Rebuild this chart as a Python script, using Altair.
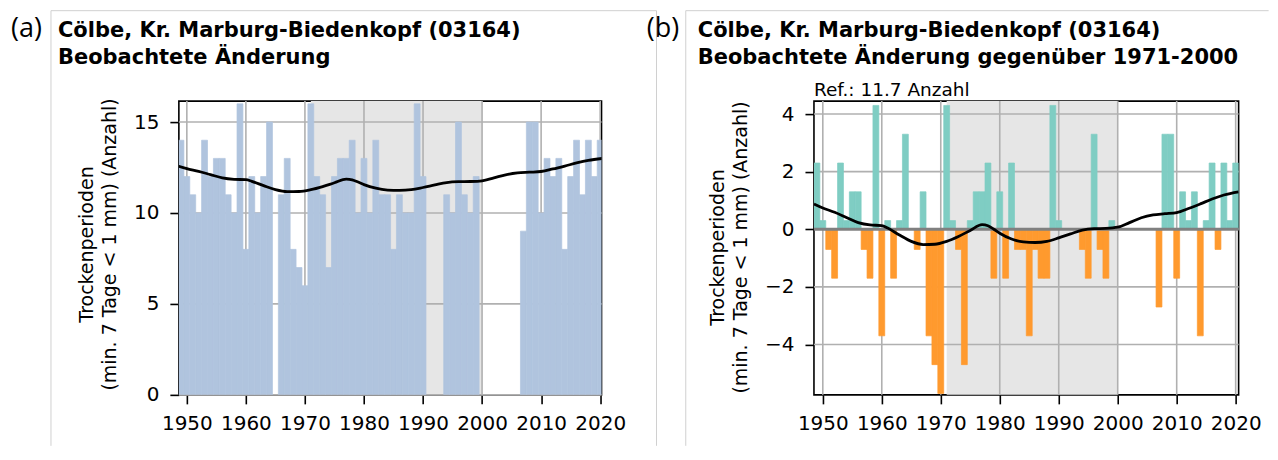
import altair as alt
import pandas as pd

# ---------------- data ----------------
years = list(range(1949, 2021))
counts = [14, 12, 11, 10, 14, 12, 13, 13, 11, 10,
          16, 8, 12, 10, 12, 15, None, 11, 13, 8,
          7, 6, 16, 12, 11, 7, 12, 13, 13, 14,
          10, 13, 10, 14, 11, 11, 8, 11, 10, 10,
          16, 12, None, None, None, 11, 10, 15, 11, 10,
          12, None, None, None, None, None, None, None, 9, 15,
          15, 10, 13, 12, 13, 8, 12, 14, 11, 14,
          12, 14]
ref_value = 11.7

smooth_years = [1948.5, 1950, 1952, 1954, 1956, 1958, 1960, 1961, 1963, 1965,
                1967, 1969, 1971, 1973, 1975, 1977, 1978, 1979, 1980, 1982,
                1984, 1986, 1988, 1990, 1992, 1994, 1996, 1998, 2000, 2002,
                2004, 2006, 2008, 2010, 2012, 2014, 2016, 2018, 2020.5]
smooth_vals = [12.58, 12.44, 12.29, 12.11, 11.93, 11.85, 11.83, 11.74, 11.50, 11.28,
               11.17, 11.18, 11.28, 11.45, 11.66, 11.86, 11.82, 11.70, 11.56, 11.36,
               11.26, 11.24, 11.28, 11.40, 11.54, 11.67, 11.72, 11.73, 11.77, 11.93,
               12.10, 12.20, 12.24, 12.28, 12.42, 12.58, 12.75, 12.89, 13.00]

span_start = [1971]
span_end = [2000]
x_ticks = [1950, 1960, 1970, 1980, 1990, 2000, 2010, 2020]
y_ticks_a = [0, 5, 10, 15]
y_ticks_b = [-4, -2, 0, 2, 4]

title_1 = "Cölbe, Kr. Marburg-Biedenkopf (03164)"
title_a2 = "Beobachtete Änderung"
title_b2 = "Beobachtete Änderung gegenüber 1971-2000"
y_title = ["Trockenperioden", "(min. 7 Tage < 1 mm) (Anzahl)"]
ref_label = "Ref.: 11.7 Anzahl"
panel_tags = ["(a)", "(b)"]

# ---------------- tables ----------------
bars = pd.DataFrame({"year": years, "count": counts}).dropna()
bars["x0"] = bars["year"] - 0.5
bars["x1"] = bars["year"] + 0.5
bars["anom"] = bars["count"] - ref_value
smooth = pd.DataFrame({"year": smooth_years, "val": smooth_vals})
smooth["anom"] = smooth["val"] - ref_value
span = pd.DataFrame({"s": span_start, "e": span_end})

H = 294
GRID = "#b0b0b0"
BORDER = "#d0d0d0"
FONT = "DejaVu Sans"
BLUE = "#b0c4de"
CYAN = "#7fcdc3"
ORANGE = "#ff9a2e"


def one(v):
    return pd.DataFrame({"t": [v]})


def panel(which):
    if which == "a":
        W = 423
        xdom = [1948.65, 2020.23]
        ydom = [0, 16.15]
        yfield = "count"
        lfield = "val"
        yticks = y_ticks_a
        title_x, title_y = -92.5, 143
        tdx = -121
        sub = title_a2
        tag = panel_tags[0]
        border_right = 478
    else:
        W = 425
        xdom = [1948.5, 2020.5]
        ydom = [-5.75, 4.45]
        yfield = "anom"
        lfield = "anom"
        yticks = y_ticks_b
        title_x, title_y = -97, 146
        tdx = -116.3
        sub = title_b2
        tag = panel_tags[1]
        border_right = 455

    xs = alt.Scale(domain=xdom, nice=False, zero=False)
    ys = alt.Scale(domain=ydom, nice=False, zero=False)
    xaxis = alt.Axis(values=x_ticks, format="d", title=None, grid=False,
                     domain=False, labelPadding=10, tickSize=9)
    yaxis = alt.Axis(values=yticks, title=y_title, titleX=title_x, titleY=title_y,
                     titleAngle=270, titleAlign="center", titleBaseline="middle",
                     titleLineHeight=23, grid=False, domain=False,
                     labelPadding=11, tickSize=9)

    layers = []
    layers.append(alt.Chart(span).mark_rect(color="#e6e6e6").encode(
        x=alt.X("s:Q", scale=xs, axis=xaxis), x2="e:Q",
        y=alt.value(0), y2=alt.value(H)))
    layers.append(alt.Chart(pd.DataFrame({"t": x_ticks})).mark_rule(
        color=GRID, strokeWidth=1.6).encode(
        x=alt.X("t:Q", scale=xs, axis=xaxis), y=alt.value(0), y2=alt.value(H)))
    layers.append(alt.Chart(pd.DataFrame({"t": yticks})).mark_rule(
        color=GRID, strokeWidth=1.6).encode(
        y=alt.Y("t:Q", scale=ys, axis=yaxis), x=alt.value(0), x2=alt.value(W)))

    if which == "a":
        fill = alt.value(BLUE)
        stroke = alt.value(BLUE)
    else:
        fill = alt.condition("datum.anom > 0", alt.value(CYAN), alt.value(ORANGE))
        stroke = alt.condition("datum.anom > 0", alt.value(CYAN), alt.value(ORANGE))
    layers.append(alt.Chart(bars).mark_rect(clip=True, strokeWidth=0.7).encode(
        x=alt.X("x0:Q", scale=xs, axis=xaxis), x2="x1:Q",
        y=alt.Y(f"{yfield}:Q", scale=ys, axis=yaxis), y2=alt.datum(0),
        fill=fill, stroke=stroke))

    if which == "b":
        layers.append(alt.Chart(pd.DataFrame({"z": [0]})).mark_rule(
            color="#808080", strokeWidth=3.2).encode(
            y=alt.Y("z:Q", scale=ys, axis=yaxis)))
        layers.append(alt.Chart(one(ref_label)).mark_text(
            align="left", baseline="alphabetic", font=FONT, fontSize=18.5,
            color="black").encode(x=alt.value(0), y=alt.value(-5), text="t:N"))

    layers.append(alt.Chart(smooth).mark_line(
        color="black", strokeWidth=2.8, clip=True, interpolate="monotone").encode(
        x=alt.X("year:Q", scale=xs, axis=xaxis),
        y=alt.Y(f"{lfield}:Q", scale=ys, axis=yaxis), order="year:Q"))

    # titles
    layers.append(alt.Chart(one(title_1)).mark_text(
        align="left", baseline="alphabetic", font=FONT, fontSize=21,
        fontWeight="bold", color="black").encode(
        x=alt.value(tdx), y=alt.value(-64.5), text="t:N"))
    layers.append(alt.Chart(one(sub)).mark_text(
        align="left", baseline="alphabetic", font=FONT, fontSize=21,
        fontWeight="bold", color="black").encode(
        x=alt.value(tdx), y=alt.value(-37), text="t:N"))
    layers.append(alt.Chart(one(tag)).mark_text(
        align="left", baseline="alphabetic", font="Open Sans", fontSize=27,
        color="black").encode(
        x=alt.value(-168 if which == "a" else -167.3), y=alt.value(-64.5), text="t:N"))

    # light frame around the panel
    bl = -128 if which == "a" else -128.3
    layers.append(alt.Chart(one("")).mark_rule(color=BORDER, strokeWidth=1).encode(
        x=alt.value(bl), x2=alt.value(border_right), y=alt.value(-90.5)))
    layers.append(alt.Chart(one("")).mark_rule(color=BORDER, strokeWidth=1).encode(
        x=alt.value(bl), y=alt.value(-90.5), y2=alt.value(345)))
    if which == "a":
        layers.append(alt.Chart(one("")).mark_rule(color=BORDER, strokeWidth=1).encode(
            x=alt.value(border_right), y=alt.value(-90.5), y2=alt.value(345)))

    return alt.layer(*layers).properties(width=W, height=H)


chart = alt.hconcat(panel("a"), panel("b"), spacing=212.6, bounds="flush").properties(
    padding={"left": 2, "top": 1, "right": 0, "bottom": 0},
    background="white",
).configure_view(stroke="black", strokeWidth=1.6).configure_axis(
    labelFont=FONT, labelFontSize=20, labelColor="black",
    tickColor="black", tickWidth=1.6,
    titleFont=FONT, titleFontSize=19, titleFontWeight="normal", titleColor="black",
)

chart.save("out.html", embed_options={"renderer": "svg", "actions": False})
